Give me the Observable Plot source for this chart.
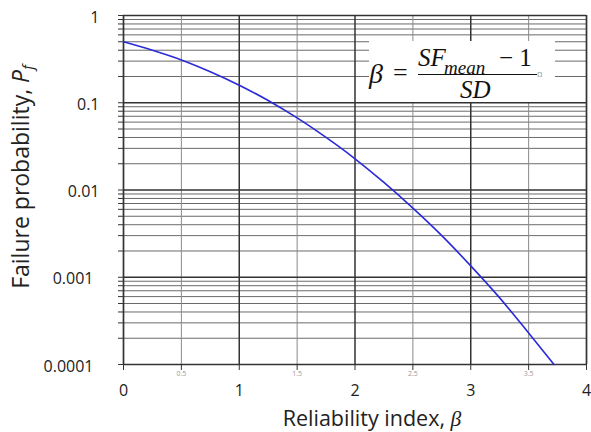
<!DOCTYPE html>
<html><head><meta charset="utf-8">
<script src="https://cdn.jsdelivr.net/npm/d3@7"></script>
<script src="https://cdn.jsdelivr.net/npm/@observablehq/plot@0.6"></script>
<style>
body{margin:0;background:#fff;}
#wrap{position:relative;width:591px;height:432px;}
.formula{position:absolute;left:369px;top:41px;width:186px;height:61px;background:#fff;font-family:"Liberation Serif","DejaVu Serif",serif;font-style:italic;color:#111;}
.formula span{position:absolute;white-space:nowrap;}
</style></head><body><div id="wrap"></div>
<script>
// Data
const beta = [0, 0.25, 0.5, 0.75, 1, 1.25, 1.5, 1.75, 2, 2.25, 2.5, 2.75, 3, 3.25, 3.5, 3.72];
const pf   = [0.5, 0.40, 0.31, 0.227, 0.159, 0.106, 0.067, 0.040, 0.0228, 0.0122, 0.0062, 0.0030, 0.00135, 0.00058, 0.00023, 0.0001];

const xMajor = [0, 1, 2, 3, 4];
const xMajorLabels = ["0", "1", "2", "3", "4"];
const xMinor = [0.5, 1.5, 2.5, 3.5];
const xMinorLabels = ["0.5", "1.5", "2.5", "3.5"];
const yDecades = [1, 0.1, 0.01, 0.001, 0.0001];
const yLabels = ["1", "0.1", "0.01", "0.001", "0.0001"];
const yMinorMult = [2, 3, 4, 5, 6, 7, 8, 9];

const yMinor = [];
for (const d of [0.0001, 0.001, 0.01, 0.1]) for (const m of yMinorMult) yMinor.push(d * m);
const data = beta.map((b, i) => ({beta: b, pf: pf[i]}));
const yLab = d => yLabels[yDecades.indexOf(d)];
const font = "'Open Sans', Lato, sans-serif";

const chart = Plot.plot({
  width: 591, height: 432,
  marginLeft: 123, marginRight: 5, marginTop: 15, marginBottom: 68,
  x: {domain: [0, 4]},
  y: {type: "log", domain: [0.0001, 1]},
  style: {fontFamily: font, background: "#fff", color: "#222"},
  marks: [
    Plot.gridY(yMinor, {stroke: "#6a6a6a", strokeOpacity: 1, strokeWidth: 1}),
    Plot.gridX(xMinor, {stroke: "#8a8a8a", strokeOpacity: 1, strokeWidth: 1}),
    Plot.gridX([1, 2, 3], {stroke: "#333", strokeOpacity: 1, strokeWidth: 1.5}),
    Plot.gridY(yDecades, {stroke: "#333", strokeOpacity: 1, strokeWidth: 1.7}),
    Plot.ruleX([0, 4], {stroke: "#333", strokeWidth: 1.7}),
    Plot.axisX([...xMajor, ...xMinor], {tickSize: 6, stroke: "#333", tickFormat: () => "", label: null}),
    Plot.axisY([...yDecades, ...yMinor], {tickSize: 5, stroke: "#333", tickFormat: () => "", label: null}),
    Plot.axisX(xMajor, {tickSize: 0, tickPadding: 20, fontSize: 16, fill: "#222", tickFormat: d => xMajorLabels[xMajor.indexOf(d)], label: null}),
    Plot.axisX(xMinor, {tickSize: 0, tickPadding: 7, fontSize: 7, fill: "#999", tickFormat: d => xMinorLabels[xMinor.indexOf(d)], label: null}),
    Plot.axisY([1, 0.1, 0.01], {tickSize: 0, tickPadding: 24, dy: 2, fontSize: 16, fill: "#222", tickFormat: yLab, label: null}),
    Plot.axisY([0.001, 0.0001], {tickSize: 0, tickPadding: 30, dy: 2, fontSize: 16, fill: "#222", tickFormat: yLab, label: null}),
    Plot.line(data, {x: "beta", y: "pf", stroke: "#2a2ad8", strokeWidth: 1.6, curve: "monotone-x"})
  ]
});

const svg = d3.select(chart);
const xt = svg.append("text")
  .attr("x", 372).attr("y", 426)
  .attr("text-anchor", "middle")
  .attr("font-size", 21.5).attr("fill", "#222")
  .attr("font-family", font);
xt.append("tspan").text("Reliability index, ");
xt.append("tspan").attr("font-family", "'Liberation Serif', serif").attr("font-style", "italic").text("β");

const yt = svg.append("text")
  .attr("transform", "translate(29,177) rotate(-90)")
  .attr("text-anchor", "middle")
  .attr("font-size", 23).attr("fill", "#222")
  .attr("font-family", font);
yt.append("tspan").text("Failure probability, ");
yt.append("tspan").attr("font-style", "italic").text("P");
yt.append("tspan").attr("font-style", "italic").attr("font-size", 15).attr("dy", 4).text("f");

const wrap = document.getElementById("wrap");
wrap.appendChild(chart);
const f = document.createElement("div");
f.className = "formula";
// positions relative to box (box at 369,41)
f.innerHTML =
  '<span style="left:0px;top:17px;font-size:28px;">β</span>' +
  '<span style="left:24px;top:17px;font-size:26px;font-style:normal;">=</span>' +
  '<span style="left:49px;top:3px;font-size:25px;">SF</span>' +
  '<span style="left:75px;top:16px;font-size:19px;">mean</span>' +
  '<span style="left:130px;top:3px;font-size:25px;font-style:normal;">− 1</span>' +
  '<span style="left:49px;top:33px;width:119px;height:0;border-top:1.8px solid #111;"></span>' +
  '<span style="left:91px;top:35px;font-size:25px;">SD</span>' +
  '<span style="left:168px;top:27px;font-size:11px;font-style:normal;color:#777;">¤</span>';
wrap.appendChild(f);
</script>
</body></html>
